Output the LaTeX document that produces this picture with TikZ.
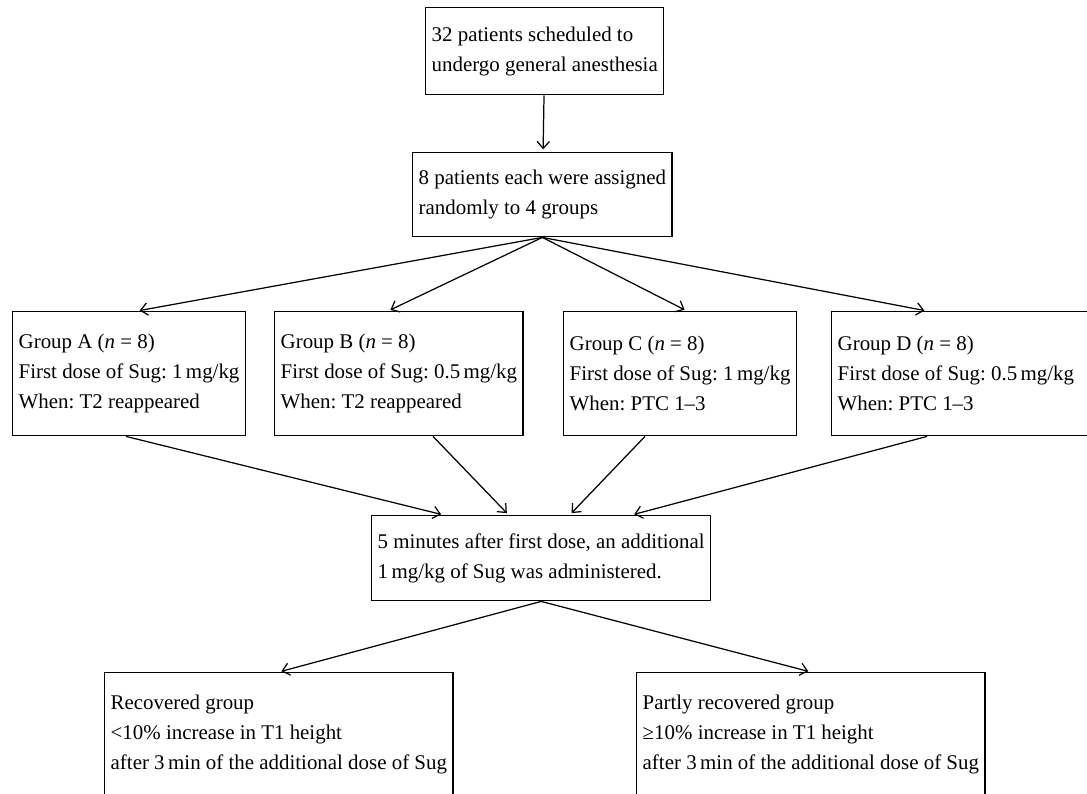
\documentclass[tikz,border=0pt]{standalone}
\usepackage{fontspec}
\setmainfont{Liberation Serif}
\usetikzlibrary{arrows.meta, positioning, calc}
\frenchspacing

\begin{document}
\begin{tikzpicture}[
  pbox/.style={draw, line width=0.8pt, align=flush left, inner xsep=0.12cm,
               font=\fontsize{11.9}{17}\selectfont, anchor=north west},
  arr/.style={-{Straight Barb[length=4pt, width=7pt]}, line width=0.7pt,
              shorten >=1.5pt}
]
  \useasboundingbox (0,0) rectangle (21.74,-15.88);
  \clip (0,0) rectangle (21.74,-15.88);

  \node[pbox, minimum height=1.74cm] (pts) at (8.50,-0.14)
    {32 patients scheduled to\\undergo general anesthesia};

  \node[pbox, minimum height=1.68cm] (rand) at (8.24,-3.04)
    {8 patients each were assigned\\randomly to 4 groups};

  \node[pbox, minimum height=2.48cm] (grpA) at (0.24,-6.22)
    {Group A (\textit{n} = 8)\\First dose of Sug: 1\,mg/kg\\When: T2 reappeared};
  \node[pbox, minimum height=2.48cm] (grpB) at (5.48,-6.22)
    {Group B (\textit{n} = 8)\\First dose of Sug: 0.5\,mg/kg\\When: T2 reappeared};
  \node[pbox, minimum height=2.48cm] (grpC) at (11.26,-6.22)
    {Group C (\textit{n} = 8)\\First dose of Sug: 1\,mg/kg\\When: PTC 1–3};
  \node[pbox, minimum height=2.48cm, text width=5.3cm] (grpD) at (16.62,-6.22)
    {Group D (\textit{n} = 8)\\First dose of Sug: 0.5\,mg/kg\\When: PTC 1–3};

  \node[pbox, minimum height=1.70cm] (extra) at (7.42,-10.30)
    {5 minutes after first dose, an additional\\1\,mg/kg of Sug was administered.};

  \node[pbox, minimum height=2.48cm] (recov) at (2.08,-13.44)
    {Recovered group\\<10\% increase in T1 height\\after 3\,min of the additional dose of Sug};
  \node[pbox, minimum height=2.48cm] (partly) at (12.72,-13.44)
    {Partly recovered group\\≥10\% increase in T1 height\\after 3\,min of the additional dose of Sug};

  \draw[arr] (pts) -- (rand);

  \draw[arr] (rand.south) -- ([xshift=2.50cm]grpA.north west);
  \draw[arr] (rand.south) -- ([xshift=2.28cm]grpB.north west);
  \draw[arr] (rand.south) -- ([xshift=2.48cm]grpC.north west);
  \draw[arr] (rand.south) -- ([xshift=1.92cm]grpD.north west);

  \draw[arr] ([xshift=2.28cm]grpA.south west) -- ([xshift=-1.95cm]extra.north);
  \draw[arr] ([xshift=3.18cm]grpB.south west) -- ([xshift=-0.65cm]extra.north);
  \draw[arr] ([xshift=1.64cm]grpC.south west) -- ([xshift=0.57cm]extra.north);
  \draw[arr] ([xshift=1.92cm]grpD.south west) -- ([xshift=1.81cm]extra.north);

  \draw[arr] (extra.south) -- (recov.north);
  \draw[arr] (extra.south) -- (partly.north);
\end{tikzpicture}
\end{document}
